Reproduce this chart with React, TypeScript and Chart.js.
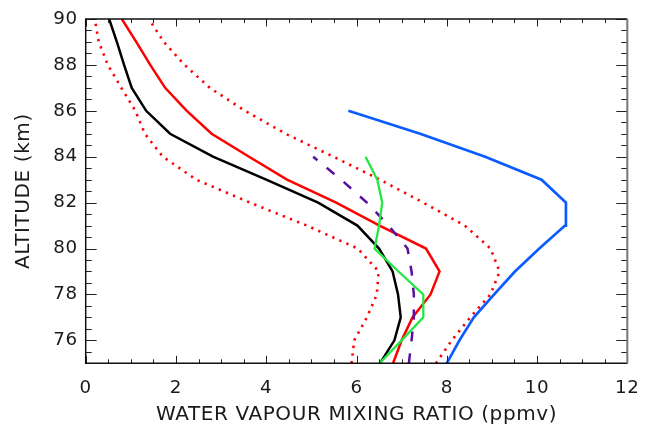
import React, { useEffect, useRef } from 'react';
import { Chart, registerables } from 'chart.js';

Chart.register(...registerables);

// ---- data ----
const ALTITUDE_KM = [75, 76, 77, 78, 79, 80, 81, 82, 83, 84, 85, 86, 87, 88, 89, 90];
const MEAN_PPMV = [6.81, 7.0, 7.24, 7.64, 7.84, 7.54, 6.51, 5.55, 4.46, 3.62, 2.79, 2.24, 1.76, 1.43, 1.12, 0.8];
const LOWER_PPMV = [5.89, 5.95, 6.23, 6.45, 6.49, 6.03, 4.9, 3.64, 2.45, 1.71, 1.31, 1.1, 0.79, 0.49, 0.29, 0.2];
const UPPER_PPMV = [7.76, 8.11, 8.52, 8.97, 9.17, 8.97, 8.4, 7.48, 6.52, 5.49, 4.43, 3.53, 2.75, 2.19, 1.73, 1.4];
const BLACK_PPMV = [6.52, 6.84, 6.98, 6.92, 6.8, 6.5, 6.02, 5.15, 4.0, 2.82, 1.87, 1.34, 1.02, 0.85, 0.69, 0.52];

const PURPLE_ALT = [75, 76, 77, 78, 79, 80, 81, 82, 83, 84];
const PURPLE_PPMV = [7.16, 7.22, 7.27, 7.27, 7.22, 7.13, 6.71, 6.23, 5.66, 5.04];

const GREEN_ALT = [75, 76, 77, 78, 79, 80, 81, 82, 83, 84];
const GREEN_PPMV = [6.51, 7.0, 7.48, 7.48, 6.93, 6.4, 6.5, 6.57, 6.46, 6.2];

const BLUE_ALT = [75, 76, 77, 78, 79, 80, 81, 82, 83, 84, 85, 86];
const BLUE_PPMV = [8.0, 8.28, 8.6, 9.05, 9.51, 10.05, 10.62, 10.64, 10.1, 8.85, 7.41, 5.82];

const X_TICK_LABELS = [0, 2, 4, 6, 8, 10, 12];
const Y_TICK_LABELS = [76, 78, 80, 82, 84, 86, 88, 90];
const X_RANGE = [0, 12];
const Y_RANGE = [75, 90];
const MINOR_STEP = 0.5;
const MAJOR_STEP = 2;

const FONT = 'DejaVu Sans';
const TEXT_COLOR = '#1a1a1a';

const pts = (xs: number[], ys: number[]) => xs.map((v, i) => ({ x: v, y: ys[i] }));

const frameTicks = {
  id: 'frameTicks',
  beforeDraw(chart: any) {
    chart.ctx.letterSpacing = '0.6px';
  },
  afterDraw(chart: any) {
    const { ctx, chartArea, scales } = chart;
    const { left, right, top, bottom } = chartArea;
    const xs = scales.x;
    const ys = scales.y;
    ctx.save();
    ctx.letterSpacing = '0px';
    ctx.lineWidth = 1;
    ctx.strokeStyle = '#222';
    ctx.beginPath();
    for (let v = X_RANGE[0]; v <= X_RANGE[1] + 1e-9; v += MINOR_STEP) {
      const px = Math.round(xs.getPixelForValue(v)) + 0.5;
      const major = Math.abs(v / MAJOR_STEP - Math.round(v / MAJOR_STEP)) < 1e-6;
      const len = major ? 7.5 : 4;
      ctx.moveTo(px, bottom);
      ctx.lineTo(px, bottom - len);
      ctx.moveTo(px, top);
      ctx.lineTo(px, top + len);
    }
    for (let v = Y_RANGE[0]; v <= Y_RANGE[1] + 1e-9; v += MINOR_STEP) {
      const py = Math.round(ys.getPixelForValue(v)) + 0.5;
      const major = Math.abs(v / MAJOR_STEP - Math.round(v / MAJOR_STEP)) < 1e-6;
      const len = major ? 11 : 6;
      ctx.moveTo(left, py);
      ctx.lineTo(left + len, py);
      ctx.moveTo(right, py);
      ctx.lineTo(right - len, py);
    }
    ctx.stroke();
    // frame
    ctx.lineWidth = 1.5;
    ctx.strokeStyle = '#111';
    ctx.beginPath();
    ctx.moveTo(right, top);
    ctx.lineTo(left, top);
    ctx.lineTo(left, bottom);
    ctx.lineTo(right, bottom);
    ctx.stroke();
    ctx.lineWidth = 2;
    ctx.strokeStyle = '#777';
    ctx.beginPath();
    ctx.moveTo(right, top);
    ctx.lineTo(right, bottom);
    ctx.stroke();
    ctx.restore();
  },
};

export default function App() {
  const ref = useRef<HTMLCanvasElement | null>(null);

  useEffect(() => {
    if (!ref.current) return;
    const solid = (label: string, data: any, color: string, width = 2.5) => ({
      label,
      data,
      borderColor: color,
      backgroundColor: color,
      borderWidth: width,
      pointRadius: 0,
      showLine: true,
      fill: false,
      tension: 0,
    });
    const chart = new Chart(ref.current, {
      type: 'scatter',
      data: {
        datasets: [
          solid('green', pts(GREEN_PPMV, GREEN_ALT), '#22e844', 2.3),
          { ...solid('purple', pts(PURPLE_PPMV, PURPLE_ALT), '#5a0fa0', 2.5), borderDash: [10, 12] },
          solid('red mean', pts(MEAN_PPMV, ALTITUDE_KM), '#ff0000', 2.5),
          solid('black', pts(BLACK_PPMV, ALTITUDE_KM), '#000000', 2.5),
          solid('blue', pts(BLUE_PPMV, BLUE_ALT), '#0a5cff', 2.7),
          {
            ...solid('red lower', pts(LOWER_PPMV, ALTITUDE_KM), '#ff0000', 2.6),
            borderDash: [2.3, 5.4],
            borderCapStyle: 'butt',
          },
          {
            ...solid('red upper', pts(UPPER_PPMV, ALTITUDE_KM), '#ff0000', 2.6),
            borderDash: [2.3, 5.4],
            borderCapStyle: 'butt',
          },
        ],
      },
      options: {
        responsive: false,
        animation: false,
        events: [],
        layout: { padding: { left: 0, top: 12.7, right: 26.7, bottom: 0 } },
        plugins: { legend: { display: false }, tooltip: { enabled: false } },
        scales: {
          x: {
            type: 'linear',
            min: X_RANGE[0],
            max: X_RANGE[1],
            grid: { display: false, drawTicks: false },
            border: { display: false },
            afterBuildTicks: (s: any) => {
              s.ticks = X_TICK_LABELS.map((v) => ({ value: v }));
            },
            afterFit: (s: any) => {
              s.height = 65.7;
            },
            ticks: {
              color: TEXT_COLOR,
              font: { family: FONT, size: 18.3 },
              padding: 14,
              maxRotation: 0,
              autoSkip: false,
            },
            title: {
              display: true,
              text: 'WATER VAPOUR MIXING RATIO (ppmv)',
              color: TEXT_COLOR,
              font: { family: FONT, size: 20 },
              padding: { top: 0, bottom: 2 },
            },
          },
          y: {
            type: 'linear',
            min: Y_RANGE[0],
            max: Y_RANGE[1],
            grid: { display: false, drawTicks: false },
            border: { display: false },
            afterBuildTicks: (s: any) => {
              s.ticks = Y_TICK_LABELS.map((v) => ({ value: v }));
            },
            afterFit: (s: any) => {
              s.width = 85.7;
            },
            ticks: {
              color: TEXT_COLOR,
              font: { family: FONT, size: 18.3 },
              padding: 8,
              autoSkip: false,
            },
            title: {
              display: true,
              text: 'ALTITUDE (km)',
              color: TEXT_COLOR,
              font: { family: FONT, size: 20 },
              padding: { top: 12, bottom: 0 },
            },
          },
        },
      },
      plugins: [frameTicks],
    } as any);
    return () => chart.destroy();
  }, []);

  return (
    <div style={{ position: 'fixed', left: 0, top: 0, width: 654, height: 429, background: '#fff' }}>
      <canvas ref={ref} width={654} height={429} style={{ display: 'block', width: 654, height: 429 }} />
    </div>
  );
}
